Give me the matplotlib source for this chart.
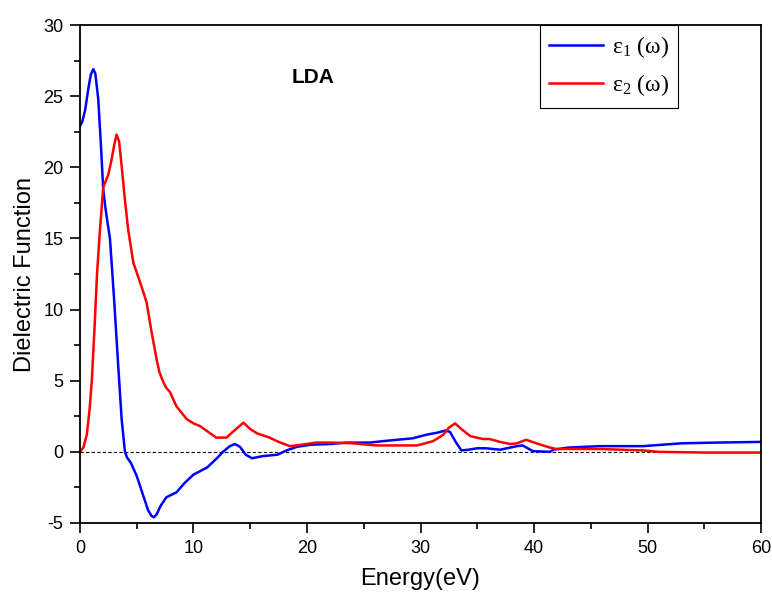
import matplotlib
matplotlib.use("Agg")
import matplotlib.pyplot as plt
from matplotlib.ticker import MultipleLocator

# Energia (eV) e parte real do dielectrico
energia_e1 = [0, 0.2, 0.45, 0.73, 0.95, 1.17, 1.35, 1.61, 1.85, 2.05, 2.3, 2.64, 3.0, 3.35,
              3.67, 3.96, 4.15, 4.5, 5.0, 5.5, 6.0, 6.3, 6.5, 6.75, 7.1, 7.6, 8.1, 8.5,
              9.2, 10.0, 11.2, 12.0, 12.6, 13.2, 13.65, 14.1, 14.6, 15.15, 16.1, 17.4,
              18.2, 19.1, 20.3, 22.0, 23.5, 25.5, 27.3, 29.3, 30.5, 31.5, 32.2, 32.6,
              33.1, 33.6, 34.2, 35.0, 35.8, 37.0, 38.5, 39.0, 39.9, 41.4, 41.7, 43.0,
              45.8, 49.6, 53.0, 56.0, 60.0]
epsilon_1 = [22.9, 23.2, 24.0, 25.5, 26.5, 26.9, 26.6, 24.8, 21.5, 18.4, 16.8, 15.0, 10.8, 6.3,
             2.3, 0.0, -0.4, -0.8, -1.7, -2.9, -4.1, -4.5, -4.6, -4.4, -3.8, -3.2, -3.0, -2.85,
             -2.2, -1.6, -1.1, -0.5, 0.0, 0.4, 0.55, 0.35, -0.2, -0.45, -0.3, -0.2,
             0.1, 0.35, 0.5, 0.55, 0.65, 0.65, 0.8, 0.95, 1.2, 1.35, 1.5, 1.4,
             0.7, 0.1, 0.15, 0.25, 0.25, 0.15, 0.4, 0.45, 0.05, 0.0, 0.15, 0.3,
             0.4, 0.4, 0.6, 0.65, 0.7]

# parte imaginaria
energia_e2 = [0, 0.3, 0.6, 0.85, 1.05, 1.3, 1.5, 1.76, 2.05, 2.3, 2.5, 2.75, 3.0, 3.22,
              3.45, 3.67, 3.96, 4.25, 4.7, 5.0, 5.43, 5.87, 6.31, 6.75, 7.0, 7.34, 7.6,
              7.93, 8.5, 9.4, 10.0, 10.6, 11.3, 12.0, 12.9, 13.6, 14.4, 15.0, 15.6,
              16.7, 17.5, 18.5, 19.5, 20.8, 22.3, 24.0, 26.1, 28.0, 29.7, 31.1, 32.0,
              32.5, 33.05, 33.6, 34.4, 35.5, 36.1, 37.0, 37.9, 38.5, 39.3, 40.2, 41.4,
              42.0, 45.8, 49.6, 51.0, 55.0, 60.0]
epsilon_2 = [0.0, 0.3, 1.2, 3.0, 5.1, 9.0, 12.5, 15.6, 18.6, 19.1, 19.5, 20.4, 21.5, 22.3,
             21.8, 20.1, 17.7, 15.6, 13.3, 12.6, 11.6, 10.5, 8.4, 6.5, 5.6, 4.9, 4.5,
             4.2, 3.2, 2.3, 2.0, 1.8, 1.4, 1.0, 1.0, 1.5, 2.05, 1.6, 1.3,
             1.0, 0.7, 0.4, 0.5, 0.65, 0.65, 0.6, 0.45, 0.45, 0.45, 0.75, 1.2,
             1.7, 2.0, 1.6, 1.1, 0.9, 0.9, 0.7, 0.55, 0.6, 0.85, 0.6, 0.3,
             0.2, 0.2, 0.1, 0.0, -0.05, -0.05]

plt.rcParams['font.family'] = ['Liberation Sans', 'DejaVu Sans']
plt.rcParams['axes.unicode_minus'] = False
plt.rcParams['mathtext.fontset'] = 'custom'
plt.rcParams['mathtext.rm'] = 'Liberation Serif'

figura = plt.figure(figsize=(7.72, 6.03), dpi=100)
eixo = figura.add_axes([0.1036, 0.1327, 0.8822, 0.8258])

eixo.axhline(0, color='black', lw=0.8, ls='--', dashes=(3, 2))
eixo.plot(energia_e1, epsilon_1, color='#0000ff', lw=1.8, label=r'$\mathregular{\varepsilon_1}$ (ω)')
eixo.plot(energia_e2, epsilon_2, color='#ff0000', lw=1.8, label=r'$\mathregular{\varepsilon_2}$ (ω)')

eixo.set_xlim(0, 60)
eixo.set_ylim(-5, 30)
eixo.xaxis.set_major_locator(MultipleLocator(10))
eixo.xaxis.set_minor_locator(MultipleLocator(5))
eixo.yaxis.set_major_locator(MultipleLocator(5))
eixo.yaxis.set_minor_locator(MultipleLocator(2.5))
eixo.tick_params(which='both', direction='out', top=False, right=False, width=1.2, labelsize=13)
eixo.tick_params(which='major', length=7, pad=5)
eixo.tick_params(which='minor', length=4)
for lado in eixo.spines.values():
    lado.set_linewidth(1.3)

eixo.set_xlabel('Energy(eV)', fontsize=17, labelpad=8)
eixo.set_ylabel('Dielectric Function', fontsize=17, labelpad=5)
eixo.text(0.311, 0.8835, 'LDA', transform=eixo.transAxes, fontsize=15, fontweight='bold')

legenda = eixo.legend(loc='upper left', bbox_to_anchor=(0.675, 1.0), borderaxespad=0,
                      prop={'family': 'Liberation Serif', 'size': 17}, fancybox=False,
                      edgecolor='black', framealpha=1, handlelength=2.3,
                      handletextpad=0.35, labelspacing=0.5)
legenda.get_frame().set_linewidth(0.8)

figura.savefig('out.png', dpi=100)
